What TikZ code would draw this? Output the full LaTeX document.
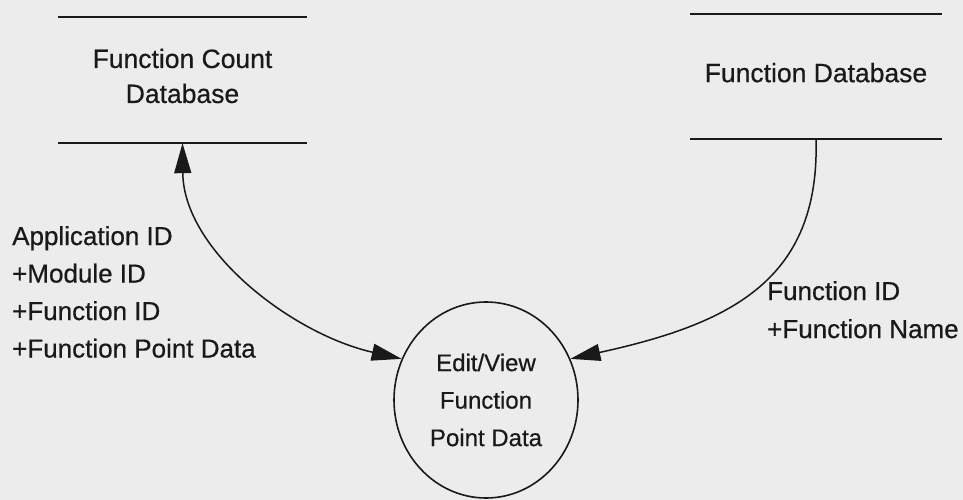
\documentclass[tikz,border=0pt]{standalone}
\usepackage{fontspec}
\setmainfont{Liberation Sans}[FakeBold=0.5]
\usetikzlibrary{arrows.meta,shapes.geometric}
\definecolor{paper}{RGB}{236,236,236}
\definecolor{ink}{RGB}{25,25,25}
\begin{document}
\begin{tikzpicture}[x=1pt,y=-1pt,
  >={Triangle[length=30pt,width=17pt]},
  storebox/.style={rectangle, inner sep=0pt, draw=none},
  storeline/.style={line width=1.5pt, draw=ink},
  storetext/.style={font=\fontsize{26.5}{35}\selectfont, align=center, text=ink, inner sep=0pt},
  process/.style={ellipse, draw=ink, line width=1.6pt, minimum width=184pt, minimum height=196pt,
                  inner sep=0pt, align=center, font=\fontsize{24}{37.5}\selectfont, text=ink},
  flowlabel/.style={font=\fontsize{26}{37.5}\selectfont, align=left, text=ink, inner sep=0pt, anchor=north west},
  flow/.style={line width=1.5pt, draw=ink}]

% page
\useasboundingbox (0,0) rectangle (963,500);
\fill[paper] (0,0) rectangle (963,500);

% data store: Function Count Database
\node[storebox, minimum width=249pt, minimum height=126pt] (fcdb) at (182.5,80) {};
\draw[storeline] (fcdb.north west) -- (fcdb.north east);
\draw[storeline] (fcdb.south west) -- (fcdb.south east);
\node[storetext] (fcdbtext) at ([yshift=4pt]fcdb.center) {Function Count\\Database};

% data store: Function Database
\node[storebox, minimum width=252pt, minimum height=125pt] (fdb) at (816,76.5) {};
\draw[storeline] (fdb.north west) -- (fdb.north east);
\draw[storeline] (fdb.south west) -- (fdb.south east);
\node[storetext] (fdbtext) at ([yshift=3.8pt]fdb.center) {Function Database};

% process
\node[process] (proc) at (486,400) {Edit/View\\Function\\Point Data};

% data flows
\draw[flow, <->] (fcdb.south) .. controls +(1,107) and +(-110,-25) .. (proc.154);
\draw[flow, ->] (fdb.south) .. controls +(4,141) and +(160,-35) .. (proc.26);

% flow labels
\node[flowlabel] (countflow) at (12,226) {Application ID\\+Module ID\\+Function ID\\+Function Point Data};
\node[flowlabel, font=\fontsize{26}{38}\selectfont] (funcflow) at (767,281) {Function ID\\+Function Name};
\end{tikzpicture}
\end{document}
